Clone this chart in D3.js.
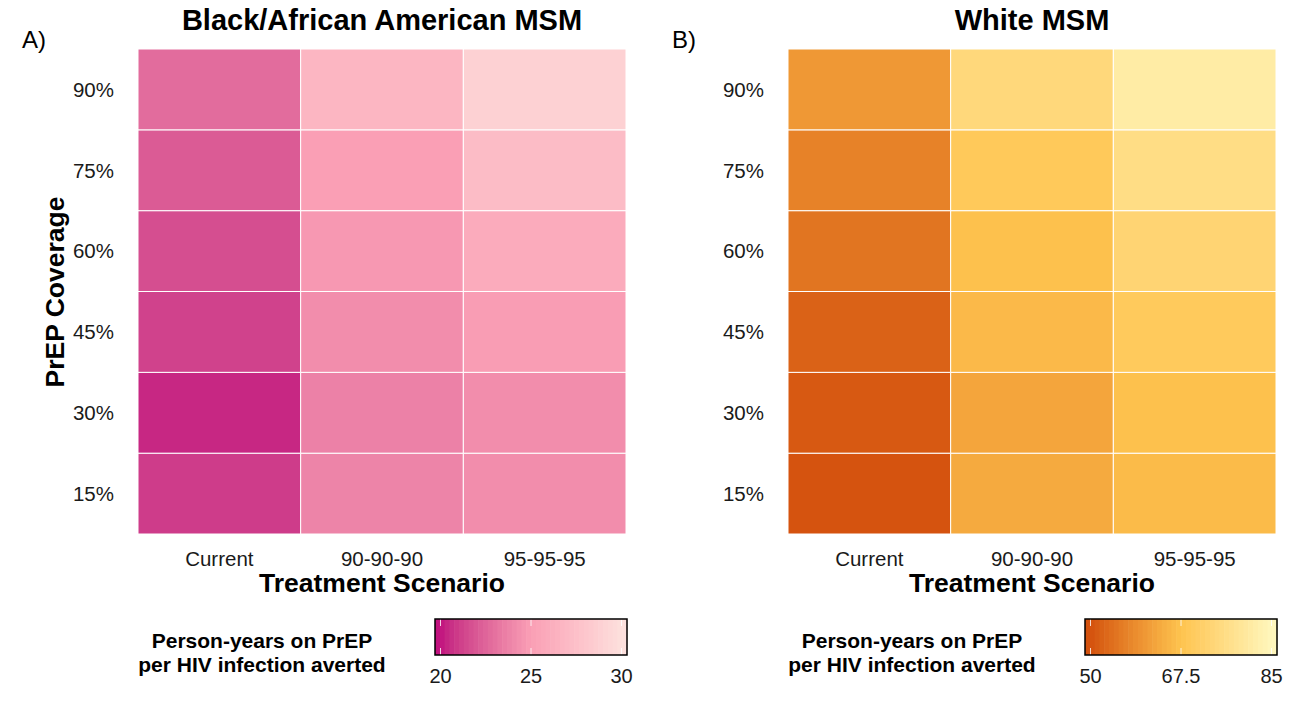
<!DOCTYPE html>
<html><head><meta charset="utf-8">
<script src="https://cdn.jsdelivr.net/npm/d3@7"></script>
<style>body{margin:0;background:#fff;font-family:"Liberation Sans",Arial,sans-serif}</style>
</head><body><svg id="c" width="1300" height="701"></svg>
<script>
const scenarios = ["Current","90-90-90","95-95-95"];
const coverage = ["15%","30%","45%","60%","75%","90%"];
// values listed per coverage row (15%..90%), columns = scenarios
const blackVals = [
  [21.0, 23.8, 24.2],
  [20.4, 23.7, 24.2],
  [21.2, 24.2, 24.9],
  [21.6, 24.7, 25.9],
  [22.1, 25.0, 27.2],
  [22.8, 26.7, 28.8]
];
const whiteVals = [
  [50.2, 63.3, 66.0],
  [51.0, 62.5, 67.0],
  [52.3, 65.8, 69.5],
  [55.0, 67.0, 73.0],
  [57.0, 69.2, 76.0],
  [60.5, 74.4, 81.2]
];
const blackTicks = [20, 25, 30];
const whiteTicks = [50, 67.5, 85];
const blackColors = ["#c2127f","#fa9fb5","#fde0dd"];
const whiteColors = ["#d4520e","#fec44f","#fff7bc"];

const svg = d3.select("#c");
const FONT = "Liberation Sans, Arial, sans-serif";

function panel(opts){
  const g = svg.append("g");
  const x = d3.scaleBand().domain(scenarios).range([opts.x0, opts.x0+488]).padding(0);
  const y = d3.scaleBand().domain(coverage.slice().reverse()).range([49, 534]).padding(0);
  const lim = d3.extent(opts.ticks);
  const col = d3.scaleLinear().domain([lim[0], (lim[0]+lim[1])/2, lim[1]]).range(opts.colors).interpolate(d3.interpolateLab).clamp(true);
  const cells = [];
  opts.vals.forEach((row,i)=>row.forEach((v,j)=>cells.push({c:coverage[i], s:scenarios[j], v})));
  g.selectAll("rect.cell").data(cells).join("rect")
    .attr("x", d=>x(d.s)).attr("y", d=>y(d.c))
    .attr("width", x.bandwidth()).attr("height", y.bandwidth())
    .attr("fill", d=>col(d.v)).attr("stroke","#fff").attr("stroke-width",1);
  // axes
  const ax = g.append("g").attr("transform","translate(0,534)").call(d3.axisBottom(x).tickSize(0).tickPadding(17));
  ax.select(".domain").remove();
  ax.selectAll("text").attr("font-size",20.5).attr("fill","#1a1a1a").attr("font-family",FONT);
  const ay = g.append("g").attr("transform",`translate(${opts.x0},0)`).call(d3.axisLeft(y).tickSize(0).tickPadding(24));
  ay.select(".domain").remove();
  ay.selectAll("text").attr("font-size",20.5).attr("fill","#1a1a1a").attr("font-family",FONT).attr("dy","0.36em");
  // title
  g.append("text").attr("x", opts.x0+244).attr("y", 30).attr("text-anchor","middle")
    .attr("font-size",29).attr("font-weight","bold").text(opts.title);
  g.append("text").attr("x", opts.x0-116).attr("y", 48).attr("font-size",24).text(opts.tag);
  g.append("text").attr("x", opts.x0+244).attr("y", 592).attr("text-anchor","middle")
    .attr("font-size",26.5).attr("font-weight","bold").text("Treatment Scenario");
  if(opts.ylab){
    g.append("text").attr("transform",`translate(${opts.x0-74},292) rotate(-90)`).attr("text-anchor","middle")
      .attr("font-size",26.5).attr("font-weight","bold").text("PrEP Coverage");
  }
  // legend
  const lx = opts.x0+124;
  g.append("text").attr("x", lx).attr("y", 648).attr("text-anchor","middle").attr("font-size",21).attr("font-weight","bold").text("Person-years on PrEP");
  g.append("text").attr("x", lx).attr("y", 672).attr("text-anchor","middle").attr("font-size",21).attr("font-weight","bold").text("per HIV infection averted");
  const bx0 = opts.x0+297, bx1 = opts.x0+489, by0 = 619, by1 = 655;
  const pad = 5.5;
  const ls = d3.scaleLinear().domain(lim).range([bx0+pad, bx1-pad]);
  const nb = 40;
  const bw = (bx1-bx0)/nb;
  const bins = d3.range(nb);
  g.selectAll("rect.bin").data(bins).join("rect")
    .attr("x", i=>bx0+i*bw).attr("y", by0).attr("width", bw+0.6).attr("height", by1-by0)
    .attr("fill", i=>col(ls.invert(bx0+(i+0.5)*bw)));
  opts.ticks.forEach(t=>{
    g.append("line").attr("x1",ls(t)).attr("x2",ls(t)).attr("y1",by0).attr("y2",by0+7).attr("stroke","#fff").attr("stroke-width",1).attr("opacity",0.8);
    g.append("line").attr("x1",ls(t)).attr("x2",ls(t)).attr("y1",by1-7).attr("y2",by1).attr("stroke","#fff").attr("stroke-width",1).attr("opacity",0.8);
    g.append("text").attr("x",ls(t)).attr("y",683).attr("text-anchor","middle").attr("font-size",20).attr("fill","#1a1a1a").text(t);
  });
  g.append("rect").attr("x",bx0).attr("y",by0).attr("width",bx1-bx0).attr("height",by1-by0)
    .attr("fill","none").attr("stroke","#000").attr("stroke-width",1.5);
}

panel({x0:138, vals:blackVals, ticks:blackTicks, colors:blackColors, title:"Black/African American MSM", tag:"A)", ylab:true});
panel({x0:788, vals:whiteVals, ticks:whiteTicks, colors:whiteColors, title:"White MSM", tag:"B)", ylab:false});
</script></body></html>
